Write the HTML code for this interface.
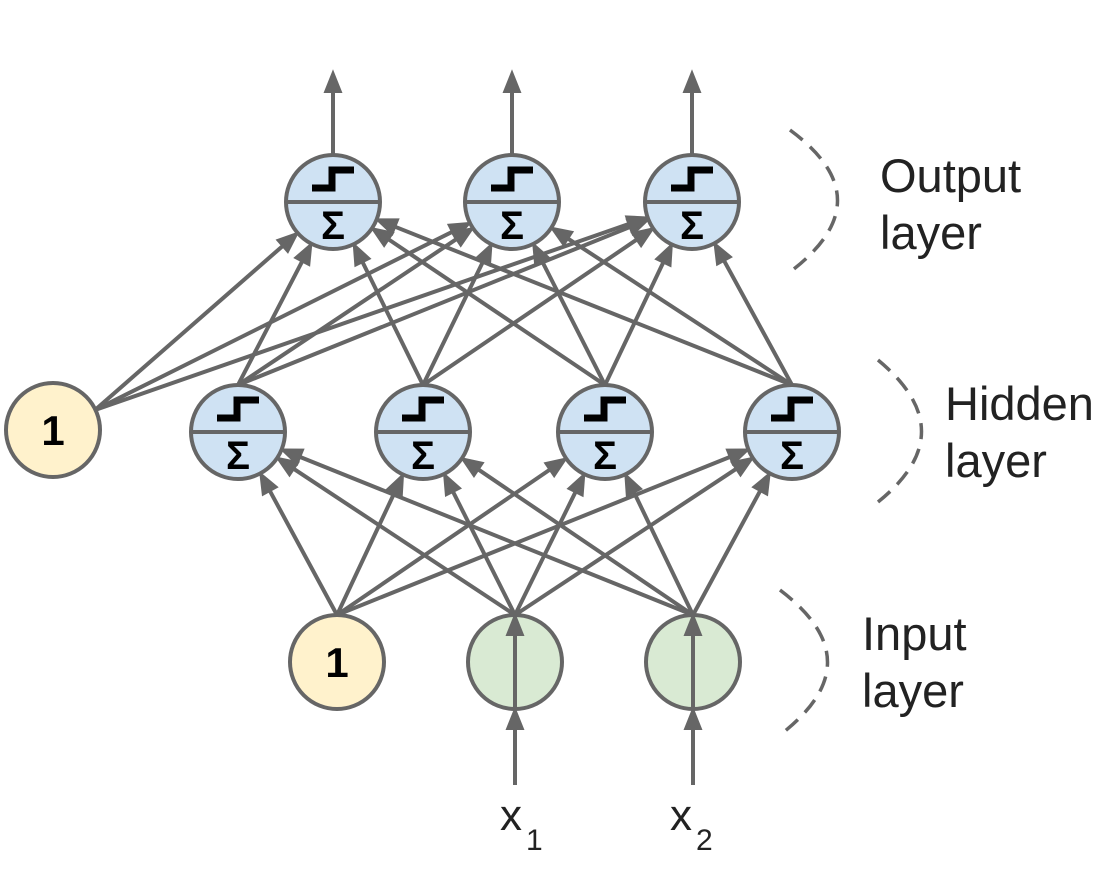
<!DOCTYPE html>
<html><head><meta charset="utf-8"><style>
html,body{margin:0;padding:0;background:#fff;}
svg{display:block;}
text{font-family:"Liberation Sans",sans-serif;}
</style></head><body>
<svg id="s" width="1102" height="871" viewBox="0 0 1102 871" xmlns="http://www.w3.org/2000/svg">
<g id="edges" stroke="#666" stroke-width="4" fill="none"></g>
<g id="heads" fill="#666" stroke="#666" stroke-width="2"></g>
<g id="nodes"></g>
<g id="top" stroke="#666" stroke-width="4" fill="#666"></g>
<g fill="none" stroke="#666" stroke-width="3.5" stroke-dasharray="16,10">
<path d="M790,130 Q885,200 790,272"/>
<path d="M878,360 Q965,432 878,502"/>
<path d="M780,590 Q875,662 780,735"/>
</g>
<g font-size="47" fill="#222">
<text x="880" y="192">Output</text><text x="880" y="249">layer</text>
<text x="945" y="420">Hidden</text><text x="945" y="477">layer</text>
<text x="862" y="650">Input</text><text x="862" y="707">layer</text>
<text x="500" y="830" font-size="44">x</text><text x="526" y="850" font-size="30">1</text>
<text x="670" y="830" font-size="44">x</text><text x="696" y="850" font-size="30">2</text>
</g>
</svg>
<script>
var R=47;
var out=[[333,202],[512,202],[692,202]];
var hid=[[238,432],[423,432],[605,432],[792,432]];
var hb=[53,430];
var inp=[[515,662],[693,662]];
var ib=[337,662];
var E=document.getElementById('edges'),H=document.getElementById('heads'),N=document.getElementById('nodes'),T=document.getElementById('top');
function ns(t,a,p){var e=document.createElementNS('http://www.w3.org/2000/svg',t);for(var k in a)e.setAttribute(k,a[k]);p.appendChild(e);return e;}
function arrow(x1,y1,x2,y2,ge,gh){
 ge=ge||E;gh=gh||H;
 var dx=x2-x1,dy=y2-y1,L=Math.hypot(dx,dy),ux=dx/L,uy=dy/L;
 var bx=x2-ux*20,by=y2-uy*20;
 ns('line',{x1:x1,y1:y1,x2:bx,y2:by},ge);
 ns('polygon',{points:x2+','+y2+' '+(bx-uy*8)+','+(by+ux*8)+' '+(bx+uy*8)+','+(by-ux*8),'stroke-width':2},gh);
}
function toCircle(s,t){var dx=s[0]-t[0],dy=s[1]-t[1],L=Math.hypot(dx,dy);return [t[0]+dx/L*R,t[1]+dy/L*R];}
hid.forEach(function(h){out.forEach(function(o){var s=[h[0],h[1]-R];var e=toCircle(s,o);arrow(s[0],s[1],e[0],e[1]);});});
out.forEach(function(o){var s=[95,410];var e=toCircle(s,o);arrow(s[0],s[1],e[0],e[1]);});
inp.concat([ib]).forEach(function(i){hid.forEach(function(h){var s=[i[0],i[1]-R];var e=toCircle(s,h);arrow(s[0],s[1],e[0],e[1]);});});
out.forEach(function(o){arrow(o[0],o[1]-R,o[0],72);});
inp.forEach(function(i){arrow(i[0],785,i[0],i[1]+R);});
function neuron(c){
 ns('circle',{cx:c[0],cy:c[1],r:R,fill:'#cfe2f3',stroke:'#666','stroke-width':4},N);
 ns('line',{x1:c[0]-R,y1:c[1],x2:c[0]+R,y2:c[1],stroke:'#666','stroke-width':4},N);
 ns('polyline',{points:(c[0]-21)+','+(c[1]-14)+' '+(c[0]-1)+','+(c[1]-14)+' '+(c[0]-1)+','+(c[1]-32)+' '+(c[0]+21)+','+(c[1]-32),fill:'none',stroke:'#000','stroke-width':7},N);
 var t=ns('text',{x:c[0],y:c[1]+37,'text-anchor':'middle','font-size':40,'font-weight':'bold',fill:'#000'},N);t.textContent='Σ';
}
function plain(c,fill,label){
 ns('circle',{cx:c[0],cy:c[1],r:R,fill:fill,stroke:'#666','stroke-width':4},N);
 if(label){var t=ns('text',{x:c[0],y:c[1]+15,'text-anchor':'middle','font-size':42,'font-weight':'bold',fill:'#000'},N);t.textContent=label;}
}
out.forEach(neuron);hid.forEach(neuron);
plain(hb,'#fff2cc','1');plain(ib,'#fff2cc','1');
inp.forEach(function(i){plain(i,'#d9ead3');});
inp.forEach(function(i){arrow(i[0],i[1]+R,i[0],i[1]-R,T,T);});
</script>
</body></html>
